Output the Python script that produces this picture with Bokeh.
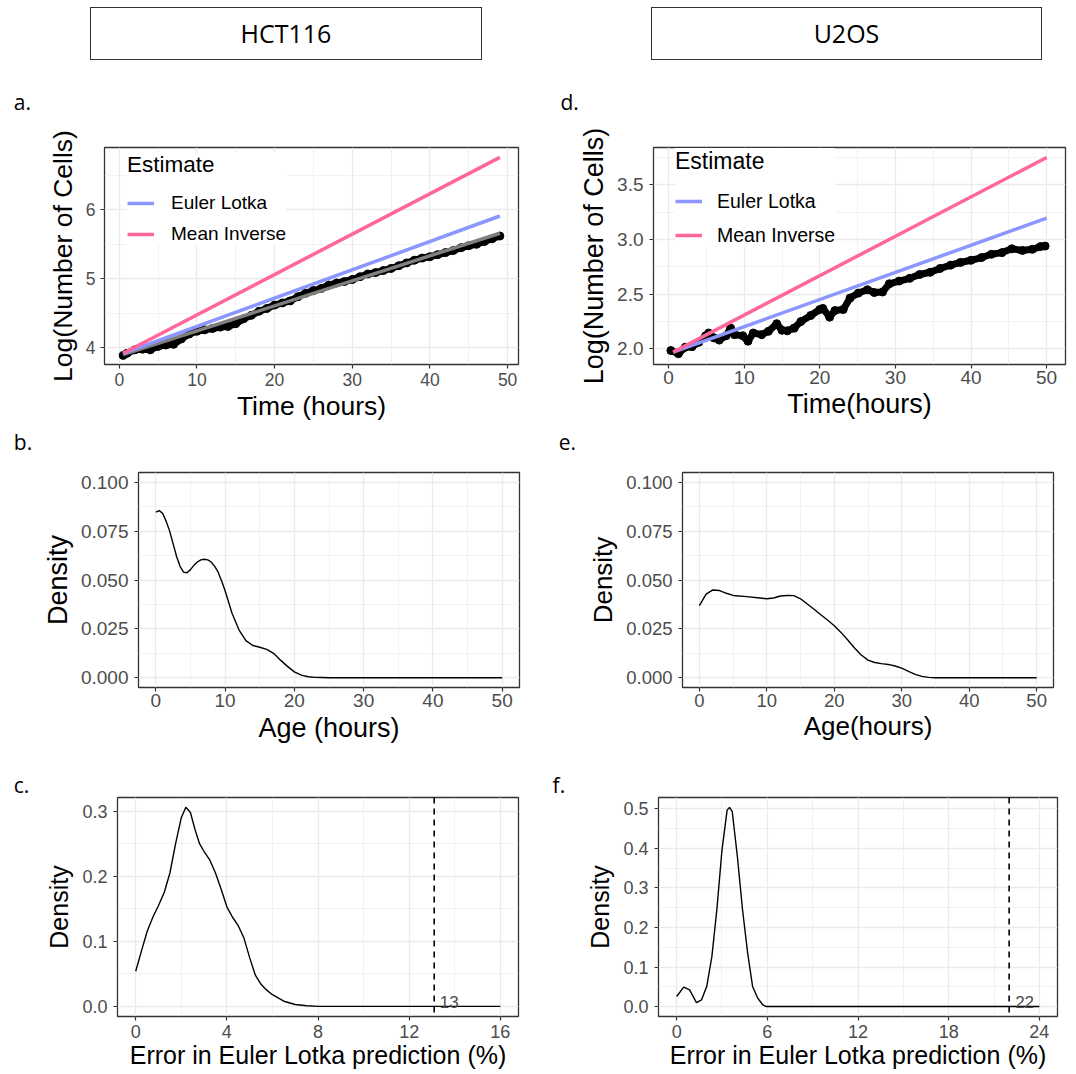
from bokeh.plotting import figure
from bokeh.layouts import column, row
from bokeh.models import (Div, FixedTicker, NumeralTickFormatter, Span, Legend,
                          LegendItem, Range1d)
from bokeh.core.properties import value
from bokeh.embed import file_html
from bokeh.resources import INLINE

# ---------------- data ----------------
cell_lines = ["HCT116", "U2OS"]
panel_labels = ["a.", "b.", "c.", "d.", "e.", "f."]

# a. HCT116 growth
hct_time = [0.5, 1, 2, 3, 4, 5, 6, 7, 8, 9, 10, 11, 12, 13, 14, 15, 16, 17, 18, 19,
            20, 21, 22, 23, 24, 25, 26, 27, 28, 29, 30, 31, 32, 33, 34, 35, 36, 37,
            38, 39, 40, 41, 42, 43, 44, 45, 46, 47, 48, 49]
hct_logn = [3.89, 3.92, 3.97, 3.98, 3.97, 4.02, 4.04, 4.05, 4.13, 4.20, 4.24, 4.26,
            4.28, 4.30, 4.31, 4.35, 4.42, 4.47, 4.53, 4.57, 4.62, 4.65, 4.68, 4.74,
            4.79, 4.83, 4.86, 4.91, 4.94, 4.96, 4.99, 5.03, 5.07, 5.09, 5.12, 5.15,
            5.19, 5.23, 5.27, 5.30, 5.32, 5.35, 5.38, 5.41, 5.45, 5.48, 5.50, 5.54,
            5.58, 5.62]
hct_fit_t = [0.5, 49]
hct_fit_y = [3.90, 5.66]
hct_euler_t = [0.5, 49]
hct_euler_y = [3.92, 5.91]
hct_mean_t = [0.5, 49]
hct_mean_y = [3.92, 6.76]

# d. U2OS growth
u2_time = [0.3, 1.3, 2.2, 3.1, 4.0, 4.9, 5.3, 6.0, 6.7, 7.6, 8.2, 8.7, 9.8, 10.5,
           11.2, 12.3, 13.2, 14.3, 15.0, 15.7, 16.6, 17.5, 18.8, 20.0, 20.4, 21.3,
           22.0, 23.1, 24.0, 25.1, 26.3, 27.2, 28.3, 29.2, 30.5, 31.9, 33.2, 34.6,
           35.9, 37.3, 38.6, 40.0, 41.4, 42.7, 44.1, 45.4, 46.8, 48.1, 49.2, 49.8]
u2_logn = [1.985, 1.956, 2.015, 2.02, 2.06, 2.12, 2.145, 2.10, 2.08, 2.12, 2.19,
           2.13, 2.12, 2.07, 2.145, 2.13, 2.16, 2.23, 2.17, 2.165, 2.19, 2.25, 2.305,
           2.36, 2.37, 2.29, 2.35, 2.36, 2.465, 2.51, 2.54, 2.515, 2.52, 2.595, 2.62,
           2.645, 2.68, 2.70, 2.735, 2.765, 2.79, 2.81, 2.835, 2.865, 2.88, 2.915,
           2.90, 2.91, 2.935, 2.94]
u2_euler_t = [0.6, 50]
u2_euler_y = [1.97, 3.195]
u2_mean_t = [0.6, 50]
u2_mean_y = [1.97, 3.75]

# b. HCT116 age density
hct_age = [0, 0.5, 1, 1.5, 2, 2.5, 3, 3.5, 4, 4.5, 5, 5.5, 6, 6.5, 7, 7.5, 8, 8.5, 9,
           9.5, 10, 11, 12, 13, 14, 15, 16, 17, 18, 19, 20, 21, 22, 23, 24, 25, 30,
           35, 40, 45, 50]
hct_age_dens = [0.0847, 0.0855, 0.0840, 0.0800, 0.0750, 0.0685, 0.0620, 0.0570,
                0.0540, 0.0537, 0.0553, 0.0575, 0.0592, 0.0603, 0.0606, 0.0603,
                0.0592, 0.0570, 0.0540, 0.0495, 0.0445, 0.0330, 0.0245, 0.0190,
                0.0165, 0.0156, 0.0145, 0.0125, 0.0090, 0.0058, 0.0030, 0.0013,
                0.0005, 0.0002, 0.0001, 0.0, 0.0, 0.0, 0.0, 0.0, 0.0]

# e. U2OS age density
u2_age = [0, 1, 2, 3, 4, 5, 7, 9, 10, 11, 12, 13, 14, 15, 16, 17, 18, 19, 20, 21, 22,
          23, 24, 25, 26, 27, 28, 29, 30, 31, 32, 33, 34, 35, 40, 45, 50]
u2_age_dens = [0.0369, 0.0428, 0.0449, 0.0446, 0.0432, 0.0421, 0.0415, 0.0408,
               0.0404, 0.0408, 0.0418, 0.0421, 0.0420, 0.0404, 0.0377, 0.0350,
               0.0322, 0.0295, 0.0266, 0.0232, 0.0193, 0.0152, 0.0116, 0.0090,
               0.0078, 0.0072, 0.0068, 0.0060, 0.0049, 0.0032, 0.0017, 0.0007,
               0.0002, 0.0, 0.0, 0.0, 0.0]

# c. HCT116 error density
hct_err = [0, 0.25, 0.5, 0.75, 1.0, 1.25, 1.5, 1.75, 2.0, 2.2, 2.4, 2.6, 2.8, 3.0,
           3.25, 3.5, 3.75, 4.0, 4.25, 4.5, 4.75, 5.0, 5.25, 5.5, 5.75, 6.0, 6.5, 7.0,
           7.5, 8.0, 10, 12, 14, 16]
hct_err_dens = [0.054, 0.085, 0.115, 0.137, 0.155, 0.175, 0.205, 0.250, 0.290,
                0.306, 0.298, 0.272, 0.250, 0.238, 0.225, 0.205, 0.180, 0.153,
                0.137, 0.124, 0.105, 0.075, 0.048, 0.034, 0.025, 0.018, 0.008,
                0.003, 0.001, 0.0, 0.0, 0.0, 0.0, 0.0]
hct_err_mark = 13.1
hct_err_text = "13"

# f. U2OS error density
u2_err = [0, 0.47, 0.86, 1.31, 1.65, 1.99, 2.33, 2.66, 3.0, 3.34, 3.5, 3.68, 4.02,
          4.36, 4.70, 5.03, 5.37, 5.71, 5.94, 12, 18, 24]
u2_err_dens = [0.0253, 0.049, 0.042, 0.0101, 0.017, 0.0506, 0.126, 0.245, 0.396,
               0.497, 0.504, 0.493, 0.379, 0.245, 0.135, 0.050, 0.021, 0.004, 0.0,
               0.0, 0.0, 0.0]
u2_err_mark = 22.0
u2_err_text = "22"

# ---------------- style ----------------
FONT = "Liberation Sans"
LFONT = "Open Sans"
GRID = "#EBEBEB"
BORDER = "#333333"
TICKC = "#4D4D4D"
BLUE = "#8C96FF"
PINK = "#FF669C"
W_LEFT, W_RIGHT = 538, 536


def minors(ticks, lo, hi):
    step = ticks[1] - ticks[0]
    cand = [ticks[0] - step / 2] + [t + step / 2 for t in ticks]
    return [m for m in cand if lo < m < hi]


def make_fig(w, h, mb, xr, yr, xticks, yticks, xlab, ylab, tick_fs, title_fs,
             yfmt=None, xstand=(4, 2), ystand=(6, 5)):
    left, right, top, bottom = mb
    p = figure(width=w, height=h, x_range=Range1d(*xr), y_range=Range1d(*yr),
               output_backend="svg", toolbar_location=None,
               min_border_left=left, min_border_right=right,
               min_border_top=top, min_border_bottom=bottom)
    p.background_fill_color = "white"
    p.border_fill_color = "white"
    p.outline_line_color = BORDER
    p.outline_line_width = 1.3
    p.xaxis.ticker = FixedTicker(ticks=xticks, minor_ticks=minors(xticks, *xr))
    p.yaxis.ticker = FixedTicker(ticks=yticks, minor_ticks=minors(yticks, *yr))
    if yfmt:
        p.yaxis.formatter = NumeralTickFormatter(format=yfmt)
    p.xaxis.axis_label = xlab
    p.yaxis.axis_label = ylab
    for ax in (p.xaxis, p.yaxis):
        ax.axis_line_color = None
        ax.major_tick_line_color = BORDER
        ax.major_tick_line_width = 1.2
        ax.major_tick_out = 4
        ax.major_tick_in = 0
        ax.minor_tick_line_color = None
        ax.major_label_text_font = FONT
        ax.major_label_text_font_size = f"{tick_fs}px"
        ax.major_label_text_color = TICKC
        ax.axis_label_text_font = FONT
        ax.axis_label_text_font_size = f"{title_fs}px"
        ax.axis_label_text_font_style = "normal"
        ax.axis_label_text_color = "black"
    p.xaxis.major_label_standoff = xstand[0]
    p.xaxis.axis_label_standoff = xstand[1]
    p.yaxis.major_label_standoff = ystand[0]
    p.yaxis.axis_label_standoff = ystand[1]
    for g in (p.xgrid, p.ygrid):
        g.grid_line_color = GRID
        g.grid_line_width = 1.3
        g.minor_grid_line_color = GRID
        g.minor_grid_line_width = 0.65
    return p


def growth_legend(p, r_blue, r_pink, loc, title_fs, label_fs, so, tso, spacing):
    leg = Legend(items=[LegendItem(label="Euler Lotka", renderers=[r_blue]),
                        LegendItem(label="Mean Inverse", renderers=[r_pink])],
                 location=loc, title="Estimate")
    leg.title_text_font = FONT
    leg.title_text_font_size = f"{title_fs}px"
    leg.title_text_font_style = "normal"
    leg.title_text_color = "black"
    leg.title_standoff = tso
    leg.label_text_font = FONT
    leg.label_text_font_size = f"{label_fs}px"
    leg.label_text_color = "black"
    leg.glyph_width = 27
    leg.glyph_height = 20
    leg.label_height = 20
    leg.label_standoff = so
    leg.spacing = spacing
    leg.padding = 2
    leg.margin = 0
    leg.background_fill_color = "white"
    leg.background_fill_alpha = 1.0
    leg.border_line_color = None
    p.add_layout(leg)


def label_div(height, items, extra=""):
    # items: (text, left, top) positioned panel labels
    spans = "".join(
        f'<div style="position:absolute;left:{l}px;top:{t}px;line-height:21px;'
        f'font-family:\'Open Sans\';font-size:21px;color:black;white-space:nowrap;">{s}</div>'
        for s, l, t in items)
    html = (f'<div style="position:relative;width:{W_LEFT + W_RIGHT}px;height:{height}px;">'
            f'{extra}{spans}</div>')
    return Div(text=html, width=W_LEFT + W_RIGHT, height=height, margin=(0, 0, 0, 0))


# ---------- a ----------
fa = make_fig(W_LEFT, 308, (104, 20, 27, 64), (-1.9, 51.4), (3.758, 6.903),
              [0, 10, 20, 30, 40, 50], [4, 5, 6], "Time (hours)", "Log(Number of Cells)",
              17.5, 26.5, xstand=(4, 2), ystand=(5, 5))
fa.line(hct_time, hct_logn, line_color="black", line_width=7)
fa.scatter(hct_time, hct_logn, size=8, color="black")
fa.line(hct_fit_t, hct_fit_y, line_color="#7F7F7F", line_width=3.5)
ra_b = fa.line(hct_euler_t, hct_euler_y, line_color=BLUE, line_width=3.5)
ra_p = fa.line(hct_mean_t, hct_mean_y, line_color=PINK, line_width=3.5)
growth_legend(fa, ra_b, ra_p, (23, 119), 22.5, 19, 17, 14, 9)

# ---------- d ----------
fd = make_fig(W_RIGHT, 308, (115, 9, 21, 60), (-2.0, 52.5), (1.857, 3.841),
              [0, 10, 20, 30, 40, 50], [2.0, 2.5, 3.0, 3.5], "Time(hours)",
              "Log(Number of Cells)", 19, 27, yfmt="0.0",
              xstand=(2, 2), ystand=(6, 5))
fd.line(u2_time, u2_logn, line_color="black", line_width=7)
fd.scatter(u2_time, u2_logn, size=8, color="black")
rd_b = fd.line(u2_euler_t, u2_euler_y, line_color=BLUE, line_width=3.5)
rd_p = fd.line(u2_mean_t, u2_mean_y, line_color=PINK, line_width=3.5)
growth_legend(fd, rd_b, rd_p, (22, 117.5), 23, 19.5, 15, 15, 11)

# ---------- b ----------
fb = make_fig(W_LEFT, 302, (138, 19, 14, 68), (-2.5, 52.5), (-0.005, 0.105),
              [0, 10, 20, 30, 40, 50], [0, 0.025, 0.05, 0.075, 0.1], "Age (hours)",
              "Density", 19, 27, yfmt="0.000", xstand=(2, 3), ystand=(6, 5))
fb.line(hct_age, hct_age_dens, line_color="black", line_width=1.4)

# ---------- e ----------
fe = make_fig(W_RIGHT, 302, (144, 21, 14, 73), (-2.5, 52.5), (-0.005, 0.105),
              [0, 10, 20, 30, 40, 50], [0, 0.025, 0.05, 0.075, 0.1], "Age(hours)",
              "Density", 18.5, 26, yfmt="0.000", xstand=(2, 1), ystand=(6, 5))
fe.line(u2_age, u2_age_dens, line_color="black", line_width=1.4)

# ---------- c ----------
fc = make_fig(W_LEFT, 277, (117, 20, 2, 56), (-0.8, 16.8), (-0.0155, 0.321),
              [0, 4, 8, 12, 16], [0, 0.1, 0.2, 0.3], "Error in Euler Lotka prediction (%)",
              "Density", 18, 25, yfmt="0.0", xstand=(4, 0), ystand=(6, 6))
fc.line(hct_err, hct_err_dens, line_color="black", line_width=1.4)
fc.add_layout(Span(location=hct_err_mark, dimension="height", line_color="black",
                   line_width=1.6, line_dash="6 5"))
fc.text(x=[hct_err_mark], y=[0], text=[hct_err_text], x_offset=5.5, y_offset=-4.4,
        text_font=value(FONT), text_font_size="17px", text_color=TICKC,
        text_baseline="alphabetic", text_align="left")

# ---------- f ----------
ff = make_fig(W_RIGHT, 277, (120, 17, 2, 56), (-1.2, 25.2), (-0.0252, 0.529),
              [0, 6, 12, 18, 24], [0, 0.1, 0.2, 0.3, 0.4, 0.5],
              "Error in Euler Lotka prediction (%)", "Density", 18, 25,
              yfmt="0.0", xstand=(4, 0), ystand=(6, 6))
ff.line(u2_err, u2_err_dens, line_color="black", line_width=1.4)
ff.add_layout(Span(location=u2_err_mark, dimension="height", line_color="black",
                   line_width=1.6, line_dash="6 5"))
ff.text(x=[u2_err_mark], y=[0], text=[u2_err_text], x_offset=6, y_offset=-4.4,
        text_font=value(FONT), text_font_size="17px", text_color=TICKC,
        text_baseline="alphabetic", text_align="left")

# ---------- header + panel labels ----------
box = ("position:absolute;top:7px;height:53px;box-sizing:border-box;"
       "border:1.4px solid #333333;display:flex;align-items:center;"
       "justify-content:center;font-family:'Open Sans';font-size:25px;color:black;")
boxes = (f'<div style="{box}left:90px;width:392px;">{cell_lines[0]}</div>'
         f'<div style="{box}left:650.7px;width:391.6px;">{cell_lines[1]}</div>')
div_top = label_div(120, [(panel_labels[0], 13.8, 92), (panel_labels[3], 560.5, 92)],
                    extra=boxes)
div_mid1 = label_div(30, [(panel_labels[1], 13.8, 4), (panel_labels[4], 558.8, 4)])
div_mid2 = label_div(35, [(panel_labels[2], 13.8, 15.3), (panel_labels[5], 552.6, 15.3)])

layout = column(div_top, row(fa, fd), div_mid1, row(fb, fe), div_mid2, row(fc, ff))
open("out.html", "w").write(file_html(layout, INLINE))
